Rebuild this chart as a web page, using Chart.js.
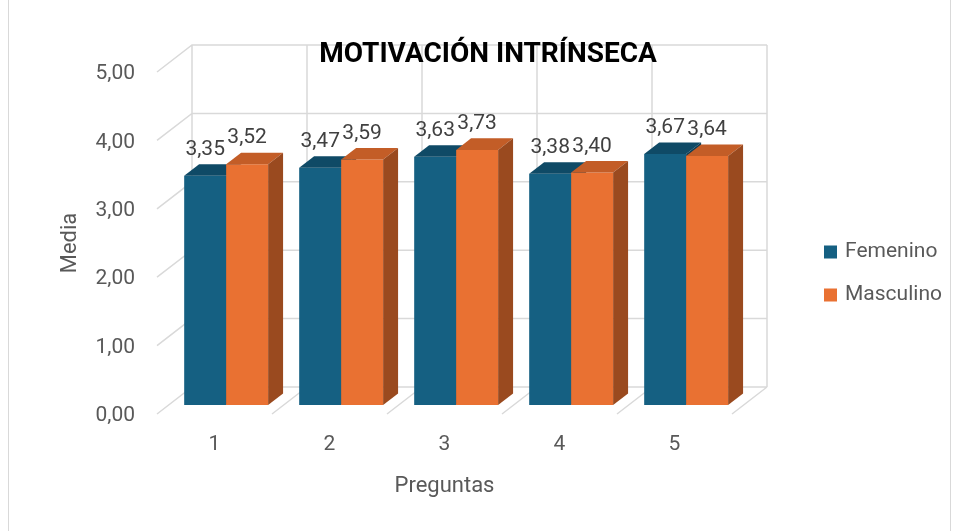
<!DOCTYPE html>
<html>
<head>
<meta charset="utf-8">
<script src="https://cdn.jsdelivr.net/npm/chart.js@4.4.1/dist/chart.umd.min.js"></script>
<style>
  html, body { margin: 0; padding: 0; background: #fff; }
  #wrap { width: 959px; height: 531px; }
</style>
</head>
<body>
<div id="wrap"><canvas id="chart" width="959" height="531"></canvas></div>
<script>
const titulo = 'MOTIVACIÓN INTRÍNSECA';
const preguntas = ['1', '2', '3', '4', '5'];
const femenino = [3.35, 3.47, 3.63, 3.38, 3.67];
const masculino = [3.52, 3.59, 3.73, 3.40, 3.64];
const ticksY = [0, 1, 2, 3, 4, 5];

const FONT = 'Roboto, "Liberation Sans", sans-serif';
const GRID = '#d9d9d9';
// profundidad del piso / paredes (perspectiva de Excel)
const DEPTH = { x: 35, y: -27 };
const BAR_FRONT = 0.333;   // donde empieza la barra en la profundidad
const BAR_BACK = 0.76;

const coma = v => v.toFixed(2).replace('.', ',');

const colores = {
  Femenino: { front: '#156082', top: '#0f4a66', side: '#0c3d55' },
  Masculino: { front: '#e97132', top: '#c35d27', side: '#9a4a1f' }
};

const efecto3d = {
  id: 'efecto3d',
  beforeDatasetsDraw(chart) {
    const { ctx, chartArea: a, scales: { x, y } } = chart;
    const step = x.getPixelForValue(1) - x.getPixelForValue(0);
    ctx.save();
    ctx.strokeStyle = GRID;
    ctx.lineWidth = 1.5;
    ctx.beginPath();
    // pared del fondo y pared izquierda
    ticksY.forEach(v => {
      const py = y.getPixelForValue(v);
      ctx.moveTo(a.left, py);
      ctx.lineTo(a.left + DEPTH.x, py + DEPTH.y);
      ctx.lineTo(a.right + DEPTH.x, py + DEPTH.y);
    });
    // verticales del fondo y diagonales del piso
    for (let i = 0; i <= preguntas.length; i++) {
      const px = x.getPixelForValue(0) - step / 2 + i * step;
      ctx.moveTo(px + DEPTH.x, a.top + DEPTH.y);
      ctx.lineTo(px + DEPTH.x, a.bottom + DEPTH.y);
      ctx.moveTo(px, a.bottom);
      ctx.lineTo(px + DEPTH.x, a.bottom + DEPTH.y);
    }
    ctx.stroke();

    // barras: frente con el propio elemento, luego tapa y lado
    const fx = DEPTH.x * BAR_FRONT, fy = DEPTH.y * BAR_FRONT;
    const bx = DEPTH.x * (BAR_BACK - BAR_FRONT), by = DEPTH.y * (BAR_BACK - BAR_FRONT);
    ctx.translate(fx, fy);
    for (let i = 0; i < preguntas.length; i++) {
      chart.data.datasets.forEach((ds, d) => {
        const el = chart.getDatasetMeta(d).data[i];
        const c = colores[ds.label];
        const { x: cx, y: top, base, width } = el.getProps(['x', 'y', 'base', 'width']);
        const l = cx - width / 2, r = cx + width / 2;
        el.draw(ctx);
        ctx.fillStyle = c.top;
        ctx.beginPath();
        ctx.moveTo(l, top); ctx.lineTo(r, top);
        ctx.lineTo(r + bx, top + by); ctx.lineTo(l + bx, top + by);
        ctx.closePath(); ctx.fill();
        ctx.fillStyle = c.side;
        ctx.beginPath();
        ctx.moveTo(r, top); ctx.lineTo(r, base);
        ctx.lineTo(r + bx, base + by); ctx.lineTo(r + bx, top + by);
        ctx.closePath(); ctx.fill();
      });
    }
    ctx.restore();
    return false;
  },
  afterDraw(chart) {
    const { ctx } = chart;
    const fx = DEPTH.x * BAR_FRONT, fy = DEPTH.y * BAR_FRONT;
    ctx.save();
    // etiquetas de datos
    ctx.font = '21px ' + FONT;
    ctx.fillStyle = '#404040';
    ctx.textAlign = 'center';
    ctx.textBaseline = 'middle';
    chart.data.datasets.forEach((ds, d) => {
      chart.getDatasetMeta(d).data.forEach((el, i) => {
        ctx.fillText(coma(ds.data[i]), el.x + fx, el.y + fy - 26);
      });
    });
    // título
    ctx.font = 'bold 28px ' + FONT;
    ctx.fillStyle = '#000';
    ctx.textBaseline = 'alphabetic';
    ctx.fillText(titulo, 488, 62);
    // leyenda
    ctx.font = '21px ' + FONT;
    ctx.textAlign = 'left';
    ctx.textBaseline = 'middle';
    chart.data.datasets.forEach((ds, d) => {
      const cy = 252 + d * 43;
      ctx.fillStyle = ds.backgroundColor;
      ctx.fillRect(824, cy - 6.5, 13, 13);
      ctx.fillStyle = '#595959';
      ctx.fillText(ds.label, 845, cy);
    });
    // borde del gráfico
    ctx.strokeStyle = GRID;
    ctx.lineWidth = 1;
    ctx.strokeRect(8.5, -2, 942, 535);
    ctx.restore();
  }
};

new Chart(document.getElementById('chart'), {
  type: 'bar',
  data: {
    labels: preguntas,
    datasets: [
      { label: 'Femenino', data: femenino, backgroundColor: colores.Femenino.front },
      { label: 'Masculino', data: masculino, backgroundColor: colores.Masculino.front }
    ]
  },
  options: {
    responsive: false,
    animation: false,
    layout: { padding: { top: 72, right: 227, bottom: 0, left: 0 } },
    datasets: { bar: { categoryPercentage: 0.73, barPercentage: 1 } },
    plugins: { legend: { display: false }, title: { display: false }, tooltip: { enabled: false } },
    scales: {
      x: {
        grid: { display: false, drawTicks: false },
        border: { display: false },
        ticks: { color: '#595959', font: { family: FONT, size: 21 }, padding: 18 },
        title: { display: true, text: 'Preguntas', color: '#595959', font: { family: FONT, size: 22 }, padding: { top: 0, bottom: 31 } },
        afterFit: s => { s.height = 117; }
      },
      y: {
        min: 0, max: 5,
        grid: { display: false, drawTicks: false },
        border: { display: false },
        afterBuildTicks: s => { s.ticks = ticksY.map(v => ({ value: v })); },
        ticks: { color: '#595959', font: { family: FONT, size: 21 }, padding: 22, labelOffset: 2, callback: v => coma(v) },
        title: { display: true, text: 'Media', color: '#595959', font: { family: FONT, size: 22 }, padding: { top: 57, bottom: 0 } },
        afterFit: s => { s.width = 157; }
      }
    }
  },
  plugins: [efecto3d]
});
</script>
</body>
</html>
